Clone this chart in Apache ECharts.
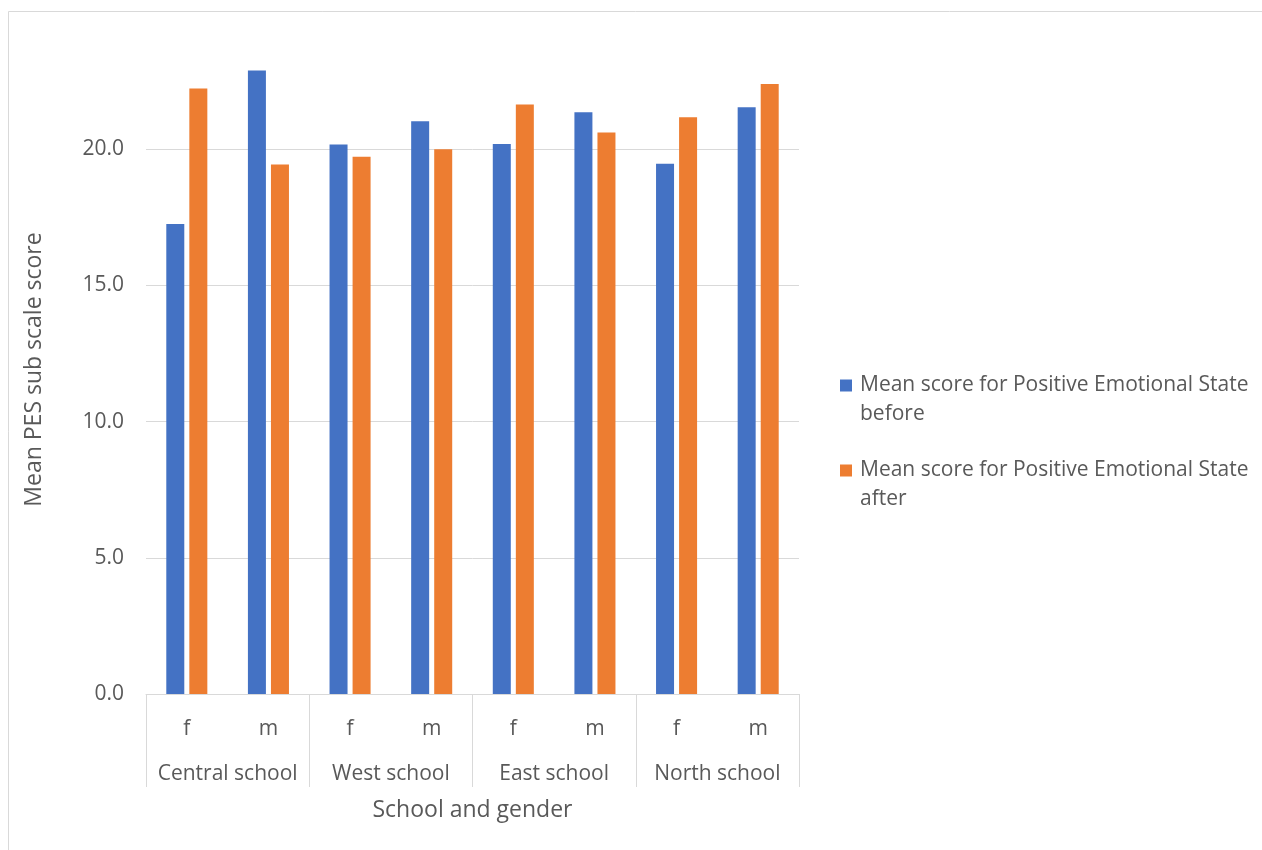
<!DOCTYPE html>
<html>
<head>
<meta charset="utf-8">
<script src="https://cdn.jsdelivr.net/npm/echarts@6/dist/echarts.min.js"></script>
<style>
  html, body { margin: 0; padding: 0; background: #ffffff; }
  #chart { width: 1262px; height: 850px; }
</style>
</head>
<body>
<div id="chart"></div>
<script>
// Mean PES sub scale scores by school and gender, before and after
const genders = ['f', 'm', 'f', 'm', 'f', 'm', 'f', 'm'];
const schools = ['Central school', 'West school', 'East school', 'North school'];
const beforeName = 'Mean score for Positive Emotional State before';
const afterName = 'Mean score for Positive Emotional State after';
const beforeScores = [17.25, 22.89, 20.17, 21.03, 20.19, 21.36, 19.47, 21.54];
const afterScores = [22.23, 19.44, 19.72, 20.0, 21.64, 20.61, 21.17, 22.39];
const yTicks = { min: 0, max: 25, interval: 5 };

const FONT = 'Open Sans';
const TEXT = '#595959';
const GRID_LINE = '#d9d9d9';
const FS = 21;
const TITLE_FS = 23;

const chart = echarts.init(document.getElementById('chart'), null, { renderer: 'canvas' });

chart.setOption({
  backgroundColor: '#ffffff',
  animation: false,
  textStyle: { fontFamily: FONT, color: TEXT },
  graphic: [{
    type: 'rect',
    shape: { x: 8.5, y: 11.5, width: 1300, height: 900 },
    style: { fill: 'none', stroke: GRID_LINE, lineWidth: 1 },
    silent: true
  }],
  grid: { left: 146, right: 463, top: 13, bottom: 156, containLabel: false },
  legend: {
    orient: 'vertical',
    left: 840,
    top: 342,
    padding: 0,
    itemWidth: 12,
    itemHeight: 12,
    itemGap: -2,
    icon: 'rect',
    data: [beforeName, afterName],
    // blank first line keeps the swatch level with the first text line
    formatter: function (name) {
      return '\n' + name.replace(/ (before|after)$/, '\n$1');
    },
    textStyle: {
      fontFamily: FONT,
      fontSize: FS,
      color: TEXT,
      lineHeight: 29,
      padding: [0, 0, 0, 3]
    }
  },
  xAxis: [
    {
      type: 'category',
      data: genders,
      position: 'bottom',
      axisLine: { show: true, lineStyle: { color: GRID_LINE, width: 1 } },
      axisTick: { show: false },
      axisLabel: { interval: 0, margin: 25, fontSize: FS, color: TEXT, fontFamily: FONT },
      name: 'School and gender',
      nameLocation: 'middle',
      nameGap: 105,
      nameTextStyle: { fontSize: TITLE_FS, color: TEXT, fontFamily: FONT }
    },
    {
      type: 'category',
      data: schools,
      position: 'bottom',
      axisLine: { show: false },
      axisTick: { show: true, interval: 0, length: 93, lineStyle: { color: GRID_LINE, width: 1 } },
      axisLabel: { interval: 0, margin: 70, fontSize: FS, color: TEXT, fontFamily: FONT },
      splitLine: { show: false }
    }
  ],
  yAxis: {
    type: 'value',
    min: yTicks.min,
    max: yTicks.max,
    interval: yTicks.interval,
    axisLine: { show: false },
    axisTick: { show: false },
    axisLabel: {
      margin: 22,
      fontSize: FS,
      color: TEXT,
      fontFamily: FONT,
      showMaxLabel: false,
      formatter: function (v) { return v.toFixed(1); }
    },
    splitLine: { show: true, showMaxLine: false, lineStyle: { color: GRID_LINE, width: 1 } },
    name: 'Mean PES sub scale score',
    nameLocation: 'middle',
    nameRotate: 90,
    nameGap: 100,
    nameTextStyle: { fontSize: TITLE_FS, color: TEXT, fontFamily: FONT, padding: [0, 32, 0, 0] }
  },
  series: [
    {
      name: beforeName,
      type: 'bar',
      xAxisIndex: 0,
      data: beforeScores,
      barWidth: 18,
      barGap: '28%',
      itemStyle: { color: '#4472C4' }
    },
    {
      name: afterName,
      type: 'bar',
      xAxisIndex: 0,
      data: afterScores,
      barWidth: 18,
      barGap: '28%',
      itemStyle: { color: '#ED7D31' }
    }
  ]
});
</script>
</body>
</html>
